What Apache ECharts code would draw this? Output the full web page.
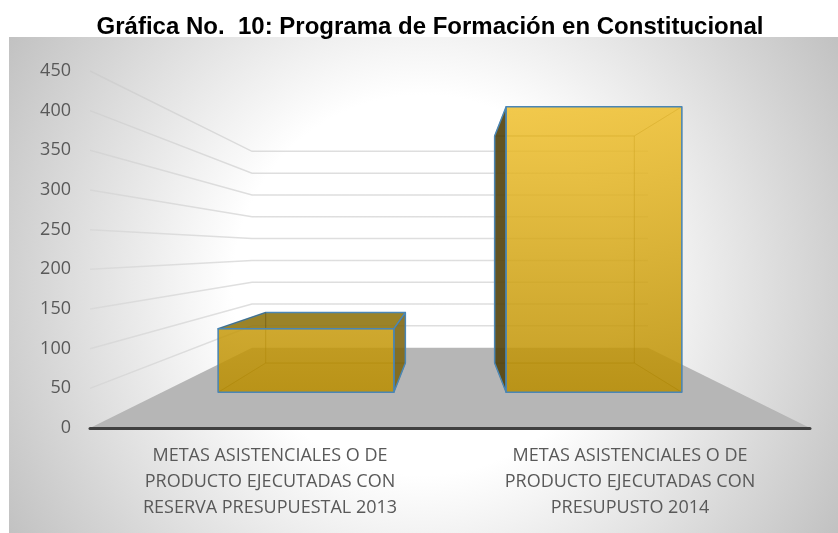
<!DOCTYPE html>
<html>
<head>
<meta charset="utf-8">
<style>html,body{margin:0;padding:0;background:#fff}#chart{width:838px;height:533px}</style>
<script src="https://cdn.jsdelivr.net/npm/echarts@6/dist/echarts.min.js"></script>
</head>
<body>
<div id="chart"></div>
<script>
var categories = [
	'METAS ASISTENCIALES O DE\nPRODUCTO EJECUTADAS CON\nRESERVA PRESUPUESTAL 2013',
	'METAS ASISTENCIALES O DE\nPRODUCTO EJECUTADAS CON\nPRESUPUSTO 2014'
];
var values = [100, 450];
var yTicks = [50, 100, 150, 200, 250, 300, 350, 400, 450];

// profundidad de la perspectiva (1 = plano frontal, todo converge al centro del grid)
var BACK_WALL = 0.55, BAR_FRONT = 0.8, BAR_BACK = 0.636, BAR_RATIO = 0.61;

function project(cs, p, s) {
	var cx = cs.x + cs.width / 2, cy = cs.y + cs.height / 2;
	return [cx + (p[0] - cx) * s, cy + (p[1] - cy) * s];
}

function poly(points, fill, stroke, width) {
	return {
		type: 'polygon',
		shape: {points: points},
		style: {fill: fill, stroke: stroke || 'none', lineWidth: width || 0, lineJoin: 'round'}
	};
}

// suelo
function renderFloor(params, api) {
	var cs = params.coordSys;
	var a = [cs.x, cs.y + cs.height], b = [cs.x + cs.width, cs.y + cs.height];
	return poly([a, b, project(cs, b, BACK_WALL), project(cs, a, BACK_WALL)], '#b6b6b6');
}

// lineas de la pared izquierda y del fondo
function renderGrid(params, api) {
	var cs = params.coordSys;
	var y = api.coord([0, api.value(0)])[1];
	var a = project(cs, [cs.x, y], 1);
	var b = project(cs, [cs.x, y], BACK_WALL);
	var c = project(cs, [cs.x + cs.width, y], BACK_WALL);
	return {
		type: 'polyline',
		shape: {points: [a, b, c]},
		style: {
			fill: 'none',
			lineWidth: 1.5,
			stroke: new echarts.graphic.LinearGradient(a[0], 0, b[0], 0, [
				{offset: 0, color: 'rgba(170,170,170,0.15)'},
				{offset: 1, color: 'rgba(195,195,195,0.55)'}
			], true)
		}
	};
}

function renderBar(params, api) {
	var cs = params.coordSys;
	var i = api.value(0);
	var top = api.coord([i, api.value(1)]);
	var base = api.coord([i, 0]);
	var half = api.size([1, 0])[0] * BAR_RATIO / 2;
	var l = top[0] - half, r = top[0] + half;
	var pt = function (x, y, s) { return project(cs, [x, y], s); };

	var ftl = pt(l, top[1], BAR_FRONT), ftr = pt(r, top[1], BAR_FRONT);
	var fbl = pt(l, base[1], BAR_FRONT), fbr = pt(r, base[1], BAR_FRONT);
	var btl = pt(l, top[1], BAR_BACK), btr = pt(r, top[1], BAR_BACK);
	var bbl = pt(l, base[1], BAR_BACK), bbr = pt(r, base[1], BAR_BACK);

	var edge = 'rgba(70,55,10,0.3)', blue = '#4a86b5';
	var frontFill = new echarts.graphic.LinearGradient(0, 105, 0, 393, [
		{offset: 0, color: 'rgba(240,192,45,0.85)'},
		{offset: 1, color: 'rgba(186,142,0,0.85)'}
	], true);
	var topFace = [ftl, ftr, btr, btl], leftFace = [ftl, btl, bbl, fbl], rightFace = [ftr, btr, bbr, fbr];
	var leftOuter = btl[0] < ftl[0];
	var rightOuter = btr[0] > ftr[0];
	var topOuter = btl[1] < ftl[1];

	var children = [
		poly([btl, btr, bbr, bbl], 'none', edge, 1),
		poly([bbl, bbr, fbr, fbl], 'rgba(150,115,10,0.1)', edge, 1),
		topOuter ? poly(topFace, 'rgba(144,117,17,0.9)', blue, 1.5) : poly(topFace, 'none', edge, 1),
		leftOuter ? poly(leftFace, 'rgba(85,68,15,0.92)', blue, 1.5) : poly(leftFace, 'none', edge, 1),
		rightOuter ? poly(rightFace, 'rgba(125,100,15,0.88)', blue, 1.5) : poly(rightFace, 'none', edge, 1),
		poly([ftl, ftr, fbr, fbl], frontFill, blue, 1.5)
	];
	return {type: 'group', children: children};
}

var chart = echarts.init(document.getElementById('chart'));
var option = {
	animation: false,
	backgroundColor: '#fff',
	title: {
		text: 'Gráfica No.  10: Programa de Formación en Constitucional',
		left: 425,
		top: 10,
		textAlign: 'center',
		textStyle: {fontFamily: 'Liberation Sans', fontWeight: 'bold', fontSize: 24, color: '#000'}
	},
	graphic: [{
		type: 'rect',
		z: -1,
		shape: {x: 9, y: 37, width: 829, height: 496},
		style: {
			fill: new echarts.graphic.RadialGradient(423, 285, 500, [
				{offset: 0, color: '#ffffff'},
				{offset: 0.38, color: '#ffffff'},
				{offset: 1, color: '#bebebe'}
			], true)
		}
	}],
	grid: {left: 90, top: 71, width: 720, height: 357},
	xAxis: {
		type: 'category',
		data: categories,
		z: 5,
		axisLine: {show: true, lineStyle: {color: '#404040', width: 3}},
		axisTick: {show: false},
		axisLabel: {
			interval: 0,
			margin: 15,
			lineHeight: 26,
			fontFamily: 'Open Sans',
			fontSize: 18,
			color: '#595959'
		}
	},
	yAxis: {
		type: 'value',
		min: 0,
		max: 450,
		interval: 50,
		axisLine: {show: false},
		axisTick: {show: false},
		splitLine: {show: false},
		axisLabel: {margin: 19, padding: [3, 0, 0, 0], fontFamily: 'Open Sans', fontSize: 18, color: '#595959'}
	},
	series: [
		{type: 'custom', silent: true, clip: false, z: 1, renderItem: renderFloor, data: [[0]]},
		{type: 'custom', silent: true, clip: false, z: 2, renderItem: renderGrid, data: yTicks.map(function (t) { return [t]; })},
		{
			type: 'custom', silent: true, clip: false, z: 3, renderItem: renderBar,
			data: values.map(function (v, i) { return [i, v]; })
		}
	]
};
chart.setOption(option);
</script>
</body>
</html>
